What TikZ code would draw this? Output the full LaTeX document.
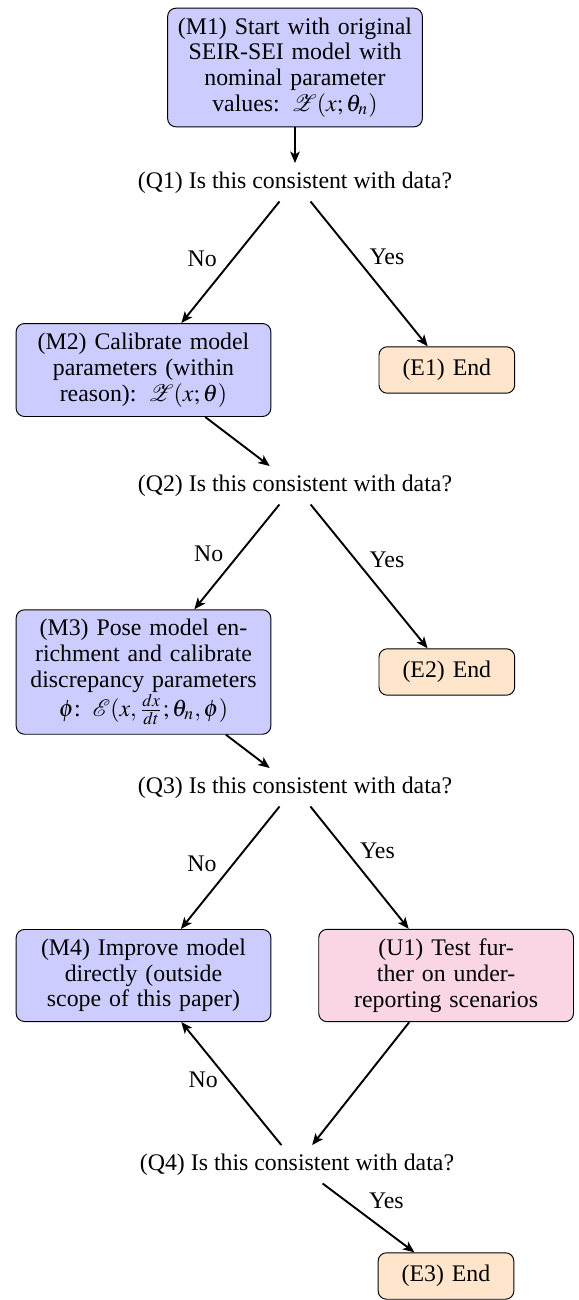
\documentclass[tikz,border=0pt]{standalone}
\usepackage{amsmath, amssymb}
\usepackage{mathptmx}
\usepackage{mathrsfs}
\usepackage{fontspec}
\setmainfont{Liberation Serif}
\usepackage{xcolor}
\usepackage{tikz}
\usetikzlibrary{arrows.meta}
\usetikzlibrary{positioning}

\definecolor{rosa}{RGB}{249,213,229}

\tikzset{
  caja/.style={draw, rounded corners=3.5pt, fill=blue!20, text width=100pt,
    align=center, inner xsep=3.5pt, inner ysep=4pt},
  fin/.style={caja, fill=orange!20, text width=50pt, minimum height=19.5pt},
  prueba/.style={caja, fill=rosa},
  flecha/.style={-{Stealth[length=4.8pt,width=4pt,inset=1.2pt]}, thick},
  no/.style={left, xshift=-2pt, yshift=1.5pt},
  si/.style={above right, xshift=-3.5pt}
}

\begin{document}
\begin{tikzpicture}[x=0.42pt, y=-0.42pt, font=\fontsize{10pt}{10.8pt}\selectfont]
  \useasboundingbox (0,0) rectangle (579,1300);

  % Modelos (columna izquierda)
  \node[caja] (M1) at (295,67.5) {(M1) Start with original\\SEIR-SEI model with\\nominal parameter\\values: $\mathscr{Z}(x;\theta_n)$};
  \node[caja] (M2) at (143.5,370) {(M2) Calibrate model\\parameters (within\\reason): $\mathscr{Z}(x;\theta)$};
  \node[caja] (M3) at (143.5,672) {(M3) Pose model en-\\richment and calibrate\\discrepancy parameters\\$\phi$: $\mathscr{E}(x,\frac{dx}{dt};\theta_n,\phi)$};
  \node[caja] (M4) at (143.5,975.5) {(M4) Improve model\\directly (outside\\scope of this paper)};

  % Preguntas
  \node[anchor=base] (Q1) at (295,188) {(Q1) Is this consistent with data?};
  \node[anchor=base] (Q2) at (295,491) {(Q2) Is this consistent with data?};
  \node[anchor=base] (Q3) at (295,793) {(Q3) Is this consistent with data?};
  \node[anchor=base] (Q4) at (297,1170) {(Q4) Is this consistent with data?};

  % Finales y prueba (columna derecha)
  \node[fin, right=45pt of M2] (E1) {(E1) End};
  \node[fin, right=45pt of M3] (E2) {(E2) End};
  \node[prueba, right=19.7pt of M4] (U1) {(U1) Test fur-\\ther on under-\\reporting scenarios};
  \node[fin] (E3) at (446,1276) {(E3) End};

  % Conexiones
  \draw[flecha] (M1) -- (Q1);
  \draw[flecha] (Q1) -- node[no] {No} (M2);
  \draw[flecha] (Q1) -- node[si] {Yes} (E1);
  \draw[flecha] (M2) -- (Q2);
  \draw[flecha] (Q2) -- node[no] {No} (M3);
  \draw[flecha] (Q2) -- node[si] {Yes} (E2);
  \draw[flecha] (M3) -- (Q3);
  \draw[flecha] (Q3) -- node[no] {No} (M4);
  \draw[flecha] (Q3) -- node[si] {Yes} (U1);
  \draw[flecha] (U1) -- (Q4);
  \draw[flecha] (Q4) -- node[no] {No} (M4);
  \draw[flecha] (Q4) -- node[si] {Yes} (E3);
\end{tikzpicture}
\end{document}
